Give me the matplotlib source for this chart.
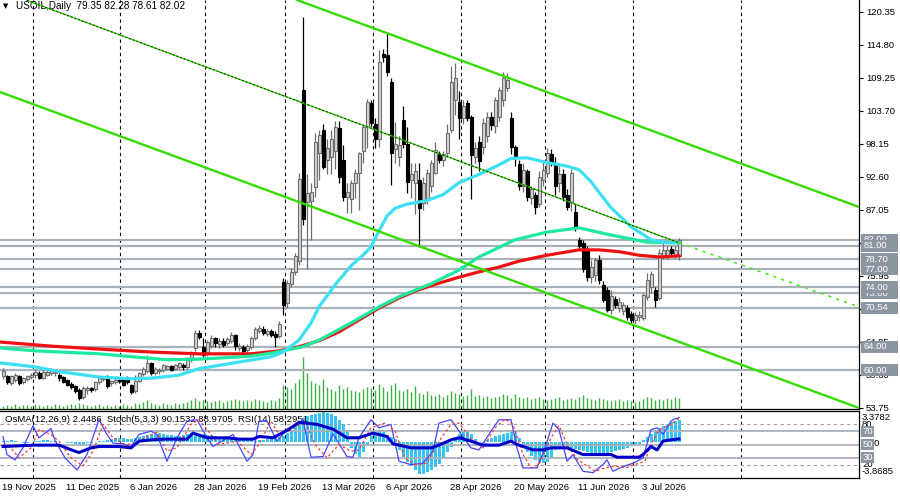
#!/usr/bin/env python3
"""USOIL daily chart: candles, MAs, trend channel, levels and an OsMA / Stoch / RSI window."""

import numpy as np
import matplotlib
matplotlib.use("Agg")
import matplotlib.pyplot as plt
from matplotlib.patches import Rectangle
from matplotlib.transforms import blended_transform_factory

plt.rcParams["font.family"] = ["Liberation Sans", "DejaVu Sans"]

# ---------------------------------------------------------------- price data
opens = [
    59.0, 59.0, 57.9, 58.4, 59.0, 58.1, 58.5, 58.9, 59.2, 59.6,
    58.8, 59.3, 59.6, 59.5, 59.2, 58.9, 58.4, 57.8, 57.3, 56.7,
    55.5, 56.7, 57.0, 56.9, 58.1, 58.5, 58.8, 57.9, 58.1, 58.4,
    58.6, 58.7, 57.5, 56.5, 58.3, 59.4, 59.9, 61.2, 59.6, 59.9,
    60.1, 60.3, 60.7, 60.3, 60.5, 61.0, 60.6, 61.8, 63.7, 66.3,
    64.0, 62.8, 64.2, 65.4, 64.4, 65.0, 64.6, 64.9, 65.9, 63.7,
    64.0, 63.4, 64.0, 65.4, 66.6, 67.0, 66.2, 66.6, 66.2, 65.8,
    74.9, 71.3, 74.5, 76.6, 78.5, 107.2, 88.3, 88.5, 90.9, 96.6,
    100.5, 95.5, 96.0, 97.0, 100.8, 95.4, 89.2, 88.8, 91.5, 93.3,
    97.0, 101.0, 105.0, 101.5, 99.0, 113.3, 113.1, 108.6, 97.3, 96.0,
    102.2, 98.2, 92.0, 91.5, 92.0, 88.2, 88.7, 91.0, 93.3, 96.5,
    95.5, 96.6, 100.5, 105.5, 105.2, 102.5, 105.0, 102.7, 96.0, 98.5,
    97.6, 99.5, 102.7, 101.2, 102.7, 105.5, 107.6, 102.5, 97.6, 94.8,
    91.0, 93.5, 89.0, 89.5, 88.0, 92.0, 93.2, 96.5, 95.0, 91.5,
    93.0, 89.5, 88.3, 86.7, 82.0, 81.5, 80.3, 75.8, 76.0, 78.6,
    74.4, 73.6, 70.2, 72.0, 70.5, 70.0, 70.5, 69.5, 68.5, 69.0,
    68.8, 72.4, 74.0, 73.6, 72.2, 79.3, 79.5, 80.5, 79.5, 79.35,
]
highs = [
    60.4, 59.3, 59.3, 59.5, 59.2, 58.9, 59.2, 59.5, 60.2, 59.9,
    60.0, 60.0, 60.4, 60.0, 59.6, 59.1, 58.6, 58.0, 57.5, 57.0,
    57.3, 57.3, 57.2, 58.3, 59.0, 59.0, 59.2, 58.4, 58.9, 58.7,
    58.9, 59.0, 57.8, 59.2, 59.8, 60.6, 62.6, 61.5, 60.6, 60.4,
    61.1, 61.0, 61.0, 61.1, 61.5, 61.3, 62.3, 63.2, 66.8, 66.8,
    65.5, 65.2, 66.0, 65.7, 65.4, 65.4, 65.6, 66.5, 66.2, 64.6,
    64.3, 64.4, 65.8, 67.3, 67.6, 67.4, 67.0, 66.9, 66.6, 68.3,
    75.5, 75.3, 77.3, 79.8, 93.2, 119.5, 93.0, 91.5, 100.0, 100.5,
    101.5, 99.0, 100.5, 102.0, 102.0, 98.0, 91.5, 92.0, 94.0, 96.8,
    101.5, 105.7, 105.5, 102.5, 114.0, 114.2, 116.8, 109.2, 101.8, 99.5,
    104.5, 101.0, 95.0, 95.0, 95.0, 92.5, 94.0, 95.5, 98.5, 97.0,
    97.0, 101.5, 111.2, 111.8, 107.0, 105.5, 105.5, 103.0, 98.5, 99.5,
    102.5, 103.5, 103.5, 106.0, 107.8, 110.2, 110.0, 103.5, 98.0, 95.5,
    95.0, 94.0, 91.0, 90.0, 93.5, 95.5, 97.5, 97.2, 96.0, 94.5,
    94.0, 90.5, 94.0, 88.0, 82.5, 82.0, 81.0, 78.6, 79.0, 79.5,
    75.0, 74.0, 73.5, 72.5, 72.3, 71.5, 71.0, 70.0, 69.8, 70.0,
    73.0, 76.4, 76.8, 74.0, 80.5, 81.5, 81.0, 81.0, 81.0, 82.28,
]
lows = [
    58.6, 57.7, 57.5, 58.0, 57.6, 57.8, 58.2, 58.5, 58.8, 58.5,
    58.5, 59.0, 59.3, 59.0, 58.3, 57.9, 57.3, 56.8, 56.2, 55.0,
    55.2, 56.0, 56.4, 56.6, 57.8, 58.3, 57.0, 57.3, 57.8, 57.9,
    57.3, 57.7, 56.0, 56.2, 58.0, 59.0, 59.5, 59.3, 59.2, 59.4,
    59.8, 60.0, 59.9, 60.0, 60.2, 60.1, 60.3, 61.5, 63.3, 65.3,
    62.3, 62.5, 63.8, 64.0, 63.8, 63.9, 64.3, 64.6, 63.5, 63.2,
    62.9, 62.9, 63.6, 65.1, 66.3, 66.0, 65.8, 65.7, 63.9, 65.4,
    69.3, 70.5, 74.0, 76.0, 77.8, 84.5, 77.0, 82.0, 89.2, 92.0,
    94.0, 93.0, 93.0, 94.0, 91.5, 88.5, 86.5, 86.5, 89.0, 87.0,
    95.0, 97.5, 101.0, 97.5, 97.6, 112.0, 109.5, 91.2, 95.0, 94.5,
    97.5, 89.9, 89.0, 86.3, 80.8, 87.0, 88.0, 90.0, 93.0, 95.0,
    94.5, 96.0, 100.0, 103.0, 99.0, 101.5, 102.0, 88.8, 95.0, 93.5,
    96.5, 98.5, 100.5, 100.0, 102.0, 104.5, 107.0, 96.5, 94.5, 90.3,
    90.0, 88.5, 88.0, 86.3, 87.5, 91.0, 92.5, 94.5, 89.5, 90.0,
    88.5, 87.0, 86.8, 83.5, 80.5, 76.5, 75.0, 74.7, 75.0, 74.5,
    71.5, 69.8, 69.5, 70.5, 69.8, 69.3, 68.5, 67.8, 67.9, 68.4,
    68.5, 71.8, 73.0, 70.7, 71.8, 78.7, 78.7, 79.3, 79.0, 78.61,
]
closes = [
    59.9, 58.0, 59.0, 59.2, 57.9, 58.7, 59.0, 59.3, 59.8, 58.7,
    59.8, 59.8, 60.1, 59.8, 58.7, 58.1, 57.6, 57.2, 56.5, 55.4,
    57.0, 57.0, 56.7, 58.0, 58.7, 58.8, 57.3, 58.2, 58.4, 58.2,
    57.6, 58.0, 56.3, 58.3, 59.6, 60.2, 61.2, 59.5, 60.3, 60.1,
    60.9, 60.8, 60.1, 60.9, 61.2, 60.5, 61.8, 62.9, 66.3, 65.7,
    62.6, 64.8, 65.5, 64.6, 65.0, 64.3, 65.3, 65.9, 64.1, 64.2,
    63.3, 64.2, 65.4, 67.0, 67.1, 66.3, 66.6, 66.0, 65.7, 67.9,
    71.0, 74.7, 76.6, 79.2, 92.3, 85.5, 89.9, 90.0, 98.5, 99.6,
    94.3, 97.5, 99.0, 101.0, 92.6, 89.2, 90.0, 91.6, 93.3, 96.6,
    101.0, 105.2, 101.7, 99.0, 111.9, 112.8, 110.2, 96.6, 98.2, 98.0,
    98.2, 91.7, 93.0, 93.5, 87.4, 91.6, 93.3, 95.0, 97.1, 95.5,
    96.5, 100.0, 108.6, 109.2, 102.5, 104.5, 102.5, 96.3, 97.5, 95.2,
    101.7, 102.7, 101.3, 105.5, 107.2, 109.2, 108.9, 97.6, 96.0, 91.0,
    93.8, 89.2, 90.5, 87.5, 92.6, 93.8, 96.6, 95.0, 91.0, 93.0,
    89.2, 87.5, 93.3, 84.2, 81.0, 77.0, 75.8, 77.4, 78.6, 75.2,
    71.9, 70.2, 72.5, 71.0, 71.5, 71.0, 69.0, 68.5, 69.3, 69.4,
    72.7, 75.2, 76.2, 71.9, 79.8, 80.3, 80.3, 79.8, 80.3, 82.02,
]
# tick volume (thousands)
volumes = [
    3, 4, 3, 5, 3, 4, 4, 3, 5, 4, 3, 4, 3, 5, 4, 3, 4, 5, 4, 6,
    5, 4, 3, 4, 5, 3, 4, 3, 4, 3, 5, 4, 3, 6, 5, 7, 9, 6, 5, 4, 6, 5, 4, 6,
    5, 6, 7, 9, 11, 8, 9, 8, 7, 8, 9, 7, 8, 9, 10, 9, 8, 9, 8, 10, 9, 8, 7, 9, 8, 11,
    24, 22, 20, 26, 30, 52, 36, 28,
    26, 24, 30, 22, 20, 18, 24, 20, 22, 19, 18, 17, 20, 22, 21, 19, 25, 22, 18, 24,
    26, 19, 18, 20, 17, 23, 16, 15, 18, 14, 13, 15, 12, 14, 18, 16, 15, 13, 14, 20, 13,
    14, 12, 13, 11, 12, 13, 15, 14, 11, 15, 12, 11, 12, 10, 11, 12, 10, 9, 10, 11,
    12, 9, 10, 11, 10, 12, 14, 11, 10, 9, 11, 10, 9, 8, 9, 10, 8, 9, 8, 7,
    8, 10, 12, 11, 9, 10, 9, 11, 10, 12, 11,
]

# moving averages, read at sample bars
ma_red_bars = [-1, 12, 24, 37, 49, 62, 69, 74, 79, 84, 89, 94, 99, 104, 109, 114,
               119, 124, 129, 136, 144, 149, 154, 159, 164, 169]
ma_red_vals = [64.8, 64.1, 63.6, 63.1, 62.8, 62.8, 63.3, 64.0, 65.0, 66.5, 68.5, 70.5,
               72.2, 73.6, 74.7, 75.7, 76.6, 77.4, 78.4, 79.4, 80.3, 80.3, 80.0, 79.4,
               79.1, 79.3]
ma_green_bars = [-1, 8, 24, 41, 49, 62, 67, 75, 79, 87, 94, 99, 107, 114, 119, 128,
                 136, 144, 152, 161, 169]
ma_green_vals = [63.8, 63.3, 62.8, 61.8, 61.9, 62.4, 62.9, 64.0, 65.1, 68.0, 70.7,
                 72.4, 74.6, 76.9, 79.1, 82.0, 83.3, 84.0, 82.8, 81.6, 81.5]
ma_cyan_bars = [-1, 8, 14, 24, 32, 37, 44, 49, 58, 67, 70, 74, 77, 79, 83, 87, 90,
                92, 94, 96, 98, 101, 106, 110, 114, 119, 124, 127, 131, 136, 141,
                144, 147, 149, 152, 157, 162, 166, 169]
ma_cyan_vals = [61.3, 60.6, 59.8, 58.9, 58.6, 58.7, 59.2, 60.3, 61.3, 62.3, 63.1,
                65.1, 68.0, 70.7, 74.4, 77.6, 79.4, 80.8, 83.5, 86.0, 87.3, 88.0,
                88.6, 89.6, 91.6, 93.0, 94.6, 95.7, 95.8, 95.0, 94.4, 93.8, 91.8,
                90.0, 87.4, 84.2, 82.0, 81.5, 81.5]

# trend channel anchors (bar, price)
upper_channel = [(73.5, 122.37), (214.0, 87.52)]
lower_channel = [(-0.75, 106.88), (214.0, 53.68)]
mid_line = [(6.0, 122.3), (169.0, 81.5)]
mid_line_ext = [(169.0, 81.5), (214.0, 70.7)]

# horizontal levels, in drawing order
levels = [82.00, 81.00, 78.70, 77.00, 73.00, 74.00, 70.54, 64.00, 60.00]
price_ticks = [120.35, 114.80, 109.25, 103.70, 98.15, 92.60, 87.05, 81.50, 75.95,
               70.40, 64.85, 59.30, 53.75]

# month separators and date labels (bar positions)
month_bars = [7.5, 29.25, 50.5, 70.5, 92.5, 114.5, 135.5, 157.5, 184.5]
date_bars = [0, 16, 32, 48, 64, 80, 96, 112, 128, 144, 160]
date_labels = ["19 Nov 2025", "11 Dec 2025", "6 Jan 2026", "28 Jan 2026",
               "19 Feb 2026", "13 Mar 2026", "6 Apr 2026", "28 Apr 2026",
               "20 May 2026", "11 Jun 2026", "3 Jul 2026"]

# ------------------------------------------------------------ oscillators
osma = [
    0.11, 0.11, 0.22, 0.11, 0.0, -0.11, -0.11, 0.0, 0.11, 0.11, 0.22, 0.22, 0.11, 0.11, 0.0,
    0.0, -0.11, -0.11, -0.22, -0.22, -0.22, -0.11, -0.11, 0.0, 0.11,
    0.11, 0.22, 0.32, 0.43, 0.43, 0.43, 0.32, 0.32, 0.43, 0.54, 0.65,
    0.76, 0.86, 0.86, 0.97, 0.86, 0.76,
    0.76, 0.65, 0.65, 0.76, 0.86, 0.97, 0.97, 0.86, 0.86,
    0.76, 0.76, 0.65, 0.54, 0.54, 0.43,
    0.43, 0.32, 0.32, 0.22, 0.22, 0.22, 0.11, 0.22, 0.22, 0.32,
    0.32, 0.43, 0.54, 0.65, 0.97,
    1.30, 1.73, 2.16, 2.59, 2.81, 2.92, 3.02, 3.13, 3.24, 3.13, 3.02, 2.81,
    2.38, 1.94, 1.30,
    -0.65, -1.30, -1.62, -1.08,
    -0.32, 0.65, 1.08, 1.30, 1.08,
    0.76, 0.54, 0.32,
    -0.86, -1.62, -2.16, -2.59, -3.02, -3.46, -3.46, -3.24, -3.02, -2.70,
    -2.38, -1.73, -1.08, -0.54,
    0.22, 0.86, 1.19, 1.30, 0.86, 0.32,
    0.0, -0.11,
    0.22, 0.43, 0.65, 0.76, 0.86, 0.97, 1.08, 0.97,
    0.43,
    -0.54, -1.08, -1.51, -1.94, -2.16, -2.27, -2.16, -1.62,
    -0.86, -0.54, -0.43, -0.54, -0.65, -0.76,
    -0.86, -0.97, -1.08, -1.19, -1.30, -1.30, -1.30, -1.19, -1.08,
    -0.97, -0.86, -0.76, -0.65, -0.43, -0.32, -0.22,
    0.22, 0.54, 0.86,
    1.30, 1.51, 1.73, 1.94, 2.16, 2.27, 2.45,
]
stoch_bars = [0, 1, 3, 5, 7.5, 9, 12, 13, 15.5, 18.5, 21, 24, 26, 27.5, 30, 32, 34,
              37, 38.5, 41, 43.5, 46, 48.5, 51, 52.5, 57.5, 61, 62.5, 64, 66, 68.5,
              71, 73.5, 75, 77, 80, 82.5, 86, 87.5, 89, 92, 94, 97, 99, 102, 105,
              107.5, 109, 112, 114, 117, 119, 122, 124, 127, 128.5, 130, 133.5,
              135.5, 137.5, 139, 141, 142.5, 145, 147.5, 150, 151, 152.5, 155,
              157.5, 160, 162, 163.5, 165, 167, 167.5, 169]
stoch_vals = [62, 35, 27, 45, 78, 60, 74, 56, 30, 12, 35, 87, 65, 52, 51, 47, 65,
              70, 65, 25, 60, 85, 87, 60, 47, 65, 25, 35, 85, 85, 55, 72, 80, 87,
              31, 32, 66, 32, 31, 60, 87, 75, 80, 25, 20, 22, 40, 82, 87, 70, 45,
              42, 70, 87, 87, 45, 15, 15, 45, 82, 72, 25, 35, 10, 8, 20, 27, 10,
              17, 22, 30, 72, 75, 65, 85, 87, 90.15]
signal_bars = [0, 2, 4, 7, 9, 12, 14, 17, 20, 22.5, 25, 27.5, 30.5, 33.5, 36, 38.5,
               41, 43.5, 47, 49, 52, 54, 58.5, 62, 64, 67, 69, 72, 75.5, 78, 81,
               84, 87, 89, 92, 95.5, 98, 100.5, 103, 106, 109, 112, 114, 117, 120,
               123, 125.5, 127.5, 130, 132, 134, 137, 139, 141, 143.5, 145.5, 148,
               150.5, 153, 155.5, 158, 160.5, 162, 164, 167, 169]
signal_vals = [50, 45, 30, 45, 72, 65, 55, 30, 18, 40, 80, 60, 50, 52, 62, 68, 40,
               45, 80, 87, 65, 50, 55, 35, 50, 85, 65, 72, 85, 50, 30, 50, 40, 42,
               75, 82, 70, 30, 20, 22, 55, 80, 82, 58, 45, 75, 88, 80, 35, 15, 20,
               60, 78, 50, 28, 20, 10, 15, 18, 15, 20, 25, 50, 72, 80, 88.97]
rsi_bars = [0, 7.5, 14, 18, 19, 22, 24, 29, 32, 34, 37, 40, 46, 47.5, 51, 56, 59,
            62.5, 64, 67.5, 71, 74, 78.5, 82.5, 86, 89, 92.5, 96, 97.5, 102, 107,
            109, 112, 114, 117, 120, 124, 127, 128.5, 132.5, 135, 137, 141, 145,
            152, 153.5, 159, 160, 162, 163.5, 165, 167, 169]
rsi_vals = [47, 49, 49, 40, 38, 45, 47, 47, 45, 55, 57, 58, 58, 67, 60, 60, 58, 58,
            62, 60, 71, 83, 80, 73, 60, 60, 67, 62, 51, 45, 45, 49, 57, 60, 55, 49,
            49, 55, 50, 42, 42, 45, 45, 35, 35, 31, 31, 35, 47, 42, 55, 57, 58.3]

osc_levels_solid = [70, 50, 30]
osc_levels_dashed = [80, 20]

# ------------------------------------------------------------------ layout
W, H = 900, 497
FONT = 6.8


def fx(px):
    return px / W


def fy(py):
    return 1 - py / H


fig = plt.figure(figsize=(W / 100, H / 100), dpi=100)
main_box = [0, fy(409), fx(859), 409 / H]
ind_box = [0, fy(478), fx(859), 67 / H]

ax_vol = fig.add_axes(main_box, zorder=1)
ax = fig.add_axes(main_box, zorder=2, sharex=ax_vol)
ax.patch.set_visible(False)
ax_hist = fig.add_axes(ind_box, zorder=1, sharex=ax_vol)
ax_osc = fig.add_axes(ind_box, zorder=2, sharex=ax_vol)
ax_osc.patch.set_visible(False)

X_MIN, X_MAX = -0.75, 214.0
ax.set_xlim(X_MIN, X_MAX)
ax.set_ylim(53.51, 122.37)
ax_vol.set_ylim(0, 409)
ax_hist.set_ylim(-3.8685, 3.3782)
ax_osc.set_ylim(0, 100)

for a in (ax_vol, ax, ax_hist, ax_osc):
    a.set_xticks([])
    for s in a.spines.values():
        s.set_visible(False)
ax_vol.set_yticks([])
ax_hist.set_yticks([])
ax_osc.set_yticks([])
for a in (ax, ax_osc):
    for side in ("bottom", "right"):
        a.spines[side].set_visible(True)
        a.spines[side].set_linewidth(0.9)
ax_osc.spines["top"].set_visible(True)
ax_osc.spines["top"].set_linewidth(0.9)

ax.set_yticks(price_ticks)
ax.set_yticklabels([f"{t:.2f}" for t in price_ticks])
ax.yaxis.tick_right()
ax.tick_params(axis="y", length=3, width=0.8, labelsize=FONT, pad=2)

# ------------------------------------------------------------------ main window
idx = np.arange(len(closes))
o, h, l, c = (np.array(v, dtype=float) for v in (opens, highs, lows, closes))
up = c >= o

for b in month_bars:
    ax.axvline(b, color="black", lw=0.8, ls=(0, (3, 3)), zorder=0.5)
    ax_osc.axvline(b, color="black", lw=0.8, ls=(0, (3, 3)), zorder=0.5)

ax_vol.vlines(idx, 0, volumes, color="#3cb043", lw=1.0)

for lev in levels:
    ax.axhline(lev, color="#a9b1b9", lw=1.6, zorder=1)

ax.vlines(idx[up], l[up], h[up], color="#6e6e6e", lw=0.9, zorder=3)
ax.vlines(idx[~up], l[~up], h[~up], color="black", lw=0.9, zorder=3)
bottom = np.minimum(o, c)
height = np.maximum(np.abs(c - o), 0.12)
ax.bar(idx[up], height[up], bottom=bottom[up], width=0.75, color="#d4d4d4",
       edgecolor="#6e6e6e", lw=0.8, zorder=3.1)
ax.bar(idx[~up], height[~up], bottom=bottom[~up], width=0.75, color="black",
       edgecolor="black", lw=0.8, zorder=3.1)

ax.plot(ma_red_bars, ma_red_vals, color="#ee1111", lw=2.3, zorder=4)
ax.plot(ma_green_bars, ma_green_vals, color="#1de9a0", lw=2.3, zorder=4)
ax.plot(ma_cyan_bars, ma_cyan_vals, color="#3de0f2", lw=2.3, zorder=4)

for line in (upper_channel, lower_channel):
    xs, ys = zip(*line)
    ax.plot(xs, ys, color="#33dd00", lw=1.7, zorder=5)
xs, ys = zip(*mid_line)
ax.plot(xs, ys, color="#33dd00", lw=1.0, zorder=5)
ax.plot(xs, ys, color="#222222", lw=0.7, ls=(0, (2, 2)), zorder=5.1)
xs, ys = zip(*mid_line_ext)
ax.plot(xs, ys, color="#55e633", lw=1.2, ls=(0, (2, 3)), zorder=5)

# level price boxes on the right scale
trans_main = blended_transform_factory(fig.transFigure, ax.transData)
box_h = 12 / 5.94
for k, lev in enumerate(levels):
    ax.add_patch(Rectangle((fx(861), lev - box_h / 2), fx(37), box_h,
                           transform=trans_main, facecolor="#8c96a1",
                           edgecolor="none", clip_on=False, zorder=20 + 2 * k))
    ax.text(fx(864), lev, f"{lev:.2f}", transform=trans_main, color="white",
            fontsize=FONT, ha="left", va="center", clip_on=False, zorder=21 + 2 * k)

ax_vol.text(fx(3), fy(6), "\u25bc", transform=fig.transFigure, fontsize=5,
            family="DejaVu Sans", ha="left", va="center")
ax_vol.text(fx(16), fy(6), "USOIL,Daily  79.35 82.28 78.61 82.02",
            transform=fig.transFigure, fontsize=FONT + 0.4, ha="left", va="center")

# ------------------------------------------------------------ indicator window
ax_hist.bar(idx, osma, width=0.75, color="#36c6f4", zorder=2)
for lv in osc_levels_solid:
    ax_osc.axhline(lv, color="#a9b1b9", lw=1.3, zorder=1)
for lv in osc_levels_dashed:
    ax_osc.axhline(lv, color="#a0a0a0", lw=0.8, ls=(0, (3, 3)), zorder=1)
ax_osc.plot(stoch_bars, stoch_vals, color="#4646ff", lw=0.9, zorder=3)
ax_osc.plot(signal_bars, signal_vals, color="#ff3535", lw=0.9, ls=(0, (2, 2)), zorder=3)
ax_osc.plot(rsi_bars, rsi_vals, color="#0000c8", lw=2.2, zorder=4)

ax_hist.text(fx(5), fy(419),
             "OsMA(12,26,9) 2.4486  Stoch(5,3,3) 90.1532 88.9705  RSI(14) 58.2951",
             transform=fig.transFigure, fontsize=FONT, ha="left", va="center")

trans_osc = blended_transform_factory(fig.transFigure, ax_osc.transData)
fig.text(fx(862), fy(418), "3.3782", fontsize=FONT, ha="left", va="center")
fig.text(fx(862), fy(472), "-3.8685", fontsize=FONT, ha="left", va="center")
ax_osc.text(fx(862), 80, "80", transform=trans_osc, fontsize=FONT, ha="left",
            va="center", clip_on=False, zorder=10)
ax_osc.text(fx(862), 20, "20", transform=trans_osc, fontsize=FONT, ha="left",
            va="center", clip_on=False, zorder=10)
ax_osc.text(fx(862), 52, "0.00", transform=trans_osc, fontsize=FONT, ha="left",
            va="center", clip_on=False, zorder=10)
osc_box_h = 11 * 1.5
for k, lv in enumerate(osc_levels_solid):
    ax_osc.add_patch(Rectangle((fx(861), lv - osc_box_h / 2), fx(13), osc_box_h,
                               transform=trans_osc, facecolor="#8c96a1",
                               edgecolor="none", clip_on=False, zorder=11 + 2 * k))
    ax_osc.text(fx(862.5), lv, str(lv), transform=trans_osc, color="white",
                fontsize=FONT, ha="left", va="center", clip_on=False, zorder=12 + 2 * k)

trans_date = blended_transform_factory(ax_osc.transData, fig.transFigure)
for b, lab in zip(date_bars, date_labels):
    ax_osc.text(b - 0.3, fy(488), lab, transform=trans_date, fontsize=FONT,
                ha="left", va="center", clip_on=False)

fig.savefig("out.png", dpi=100, facecolor="white")
